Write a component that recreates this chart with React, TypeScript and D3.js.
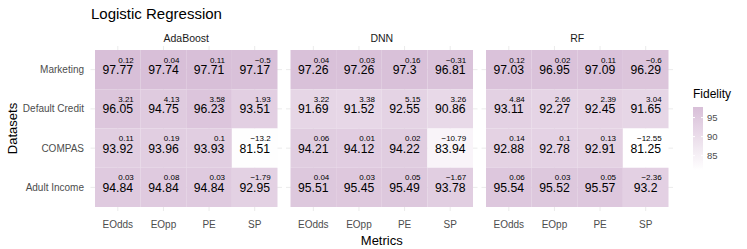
import React, { useRef, useEffect } from "react";
import * as d3 from "d3";

// models (facets), metrics (columns), datasets (rows)
const models = ["AdaBoost", "DNN", "RF"];
const metrics = ["EOdds", "EOpp", "PE", "SP"];
const datasets = ["Marketing", "Default Credit", "COMPAS", "Adult Income"];

// fidelity values, rows = datasets, cols = metrics
const adaFidelity = [
    [97.77, 97.74, 97.71, 97.17],
    [96.05, 94.75, 96.23, 93.51],
    [93.92, 93.96, 93.93, 81.51],
    [94.84, 94.84, 94.84, 92.95],
];
const adaDelta = [
    [0.12, 0.04, 0.11, -0.5],
    [3.21, 4.13, 3.58, 1.93],
    [0.11, 0.19, 0.1, -13.2],
    [0.03, 0.08, 0.03, -1.79],
];
const dnnFidelity = [
    [97.26, 97.26, 97.3, 96.81],
    [91.69, 91.52, 92.55, 90.86],
    [94.21, 94.12, 94.22, 83.94],
    [95.51, 95.45, 95.49, 93.78],
];
const dnnDelta = [
    [0.04, 0.03, 0.16, -0.31],
    [3.22, 3.38, 5.15, 3.26],
    [0.06, 0.01, 0.02, -10.79],
    [0.04, 0.03, 0.05, -1.67],
];
const rfFidelity = [
    [97.03, 96.95, 97.09, 96.29],
    [93.11, 92.27, 92.45, 91.65],
    [92.88, 92.78, 92.91, 81.25],
    [95.54, 95.52, 95.57, 93.2],
];
const rfDelta = [
    [0.12, 0.02, 0.11, -0.6],
    [4.84, 2.66, 2.39, 3.04],
    [0.14, 0.1, 0.13, -12.55],
    [0.06, 0.03, 0.05, -2.36],
];
const legendTicks = [85, 90, 95];

const fidelityByModel = [adaFidelity, dnnFidelity, rfFidelity];
const deltaByModel = [adaDelta, dnnDelta, rfDelta];

const FONT = "'Liberation Sans', Arial, Helvetica, sans-serif";
const fmt = (v: number) => String(v).replace("-", "\u2212");

const App: React.FC = () => {
    const svgRef = useRef<SVGSVGElement | null>(null);
    const width = 747;
    const height = 249;

    useEffect(() => {
        if (!svgRef.current) return;
        d3.select(svgRef.current).selectAll("*").remove();

        const svg = d3
            .select(svgRef.current)
            .attr("width", width)
            .attr("height", height)
            .style("font-family", FONT);

        const tileTop = 50;
        const tileBottom = 207;
        const panelW = 182.5;
        const panelStep = 195.5;
        const panelX0 = 95;
        const expX = 4.5;
        const expY = 4;

        const all = fidelityByModel.flat(2);
        const color = d3
            .scaleLinear<string>()
            .domain([d3.min(all)!, d3.max(all)!])
            .range(["#ffffff", "#d8bfd8"])
            .interpolate(d3.interpolateLab);

        const y = d3
            .scaleBand()
            .domain(datasets)
            .range([tileTop, tileBottom])
            .padding(0);

        // title
        svg.append("text")
            .attr("x", 91)
            .attr("y", 18.5)
            .attr("font-size", 15)
            .attr("fill", "#000")
            .text("Logistic Regression");

        models.forEach((model, mi) => {
            const x0 = panelX0 + mi * panelStep;
            const x = d3
                .scaleBand()
                .domain(metrics)
                .range([x0, x0 + panelW])
                .padding(0);

            const g = svg.append("g");

            // grid lines
            g.selectAll(".hgrid")
                .data(datasets)
                .enter()
                .append("line")
                .attr("x1", x0 - expX)
                .attr("x2", x0 + panelW + expX)
                .attr("y1", (d) => y(d)! + y.bandwidth() / 2)
                .attr("y2", (d) => y(d)! + y.bandwidth() / 2)
                .attr("stroke", "#ebebeb")
                .attr("stroke-width", 1);
            g.selectAll(".vgrid")
                .data(metrics)
                .enter()
                .append("line")
                .attr("y1", tileTop - expY)
                .attr("y2", tileBottom + expY)
                .attr("x1", (d) => x(d)! + x.bandwidth() / 2)
                .attr("x2", (d) => x(d)! + x.bandwidth() / 2)
                .attr("stroke", "#ebebeb")
                .attr("stroke-width", 1);

            const cells = datasets.flatMap((ds, ri) =>
                metrics.map((mt, ci) => ({
                    ds,
                    mt,
                    v: fidelityByModel[mi][ri][ci],
                    d: deltaByModel[mi][ri][ci],
                }))
            );

            g.selectAll(".tile")
                .data(cells)
                .enter()
                .append("rect")
                .attr("x", (d) => x(d.mt)!)
                .attr("y", (d) => y(d.ds)!)
                .attr("width", x.bandwidth())
                .attr("height", y.bandwidth())
                .attr("fill", (d) => color(d.v));

            g.selectAll(".val")
                .data(cells)
                .enter()
                .append("text")
                .attr("x", (d) => x(d.mt)! + x.bandwidth() / 2)
                .attr("y", (d) => y(d.ds)! + y.bandwidth() / 2 + 4.5)
                .attr("text-anchor", "middle")
                .attr("font-size", 12.2)
                .attr("fill", "#000")
                .text((d) => fmt(d.v));

            g.selectAll(".delta")
                .data(cells)
                .enter()
                .append("text")
                .attr("x", (d) => x(d.mt)! + x.bandwidth() / 2 + 16)
                .attr("y", (d) => y(d.ds)! + y.bandwidth() / 2 - 7)
                .attr("text-anchor", "end")
                .attr("font-size", 8)
                .attr("fill", "#000")
                .text((d) => fmt(d.d));

            // strip label
            g.append("text")
                .attr("x", x0 + panelW / 2)
                .attr("y", 41.5)
                .attr("text-anchor", "middle")
                .attr("font-size", 10.5)
                .attr("fill", "#1a1a1a")
                .text(model);

            // x tick labels
            g.selectAll(".xtick")
                .data(metrics)
                .enter()
                .append("text")
                .attr("x", (d) => x(d)! + x.bandwidth() / 2)
                .attr("y", 228)
                .attr("text-anchor", "middle")
                .attr("font-size", 10)
                .attr("fill", "#4d4d4d")
                .text((d) => d);
        });

        // y tick labels
        svg.selectAll(".ytick")
            .data(datasets)
            .enter()
            .append("text")
            .attr("x", 84)
            .attr("y", (d) => y(d)! + y.bandwidth() / 2 + 3.5)
            .attr("text-anchor", "end")
            .attr("font-size", 10)
            .attr("fill", "#4d4d4d")
            .text((d) => d);

        // axis titles
        svg.append("text")
            .attr("x", panelX0 + panelStep + panelW / 2)
            .attr("y", 245)
            .attr("text-anchor", "middle")
            .attr("font-size", 13)
            .attr("fill", "#000")
            .text("Metrics");
        svg.append("text")
            .attr("transform", `translate(17,${(tileTop + tileBottom) / 2}) rotate(-90)`)
            .attr("text-anchor", "middle")
            .attr("font-size", 13)
            .attr("fill", "#000")
            .text("Datasets");

        // legend
        const barX = 693;
        const barTop = 107;
        const barBottom = 170;
        const barW = 10;
        const ly = d3
            .scaleLinear()
            .domain(color.domain())
            .range([barBottom, barTop]);

        const defs = svg.append("defs");
        const grad = defs
            .append("linearGradient")
            .attr("id", "fidGrad")
            .attr("x1", 0)
            .attr("y1", 1)
            .attr("x2", 0)
            .attr("y2", 0);
        d3.range(0, 1.0001, 0.1).forEach((t) => {
            const v = color.domain()[0] + t * (color.domain()[1] - color.domain()[0]);
            grad.append("stop").attr("offset", t).attr("stop-color", color(v));
        });

        svg.append("text")
            .attr("x", barX)
            .attr("y", 98)
            .attr("font-size", 12)
            .attr("fill", "#000")
            .text("Fidelity");
        svg.append("rect")
            .attr("x", barX)
            .attr("y", barTop)
            .attr("width", barW)
            .attr("height", barBottom - barTop)
            .attr("fill", "url(#fidGrad)");

        svg.selectAll(".ltickL")
            .data(legendTicks)
            .enter()
            .append("line")
            .attr("x1", barX)
            .attr("x2", barX + 2)
            .attr("y1", (d) => ly(d))
            .attr("y2", (d) => ly(d))
            .attr("stroke", "#fff");
        svg.selectAll(".ltickR")
            .data(legendTicks)
            .enter()
            .append("line")
            .attr("x1", barX + barW - 2)
            .attr("x2", barX + barW)
            .attr("y1", (d) => ly(d))
            .attr("y2", (d) => ly(d))
            .attr("stroke", "#fff");
        svg.selectAll(".llab")
            .data(legendTicks)
            .enter()
            .append("text")
            .attr("x", barX + barW + 4)
            .attr("y", (d) => ly(d) + 3.5)
            .attr("font-size", 9.5)
            .attr("fill", "#4d4d4d")
            .text((d) => d);
    }, []);

    return (
        <svg
            ref={svgRef}
            style={{ position: "absolute", left: 0, top: 0 }}
        ></svg>
    );
};

export default App;
